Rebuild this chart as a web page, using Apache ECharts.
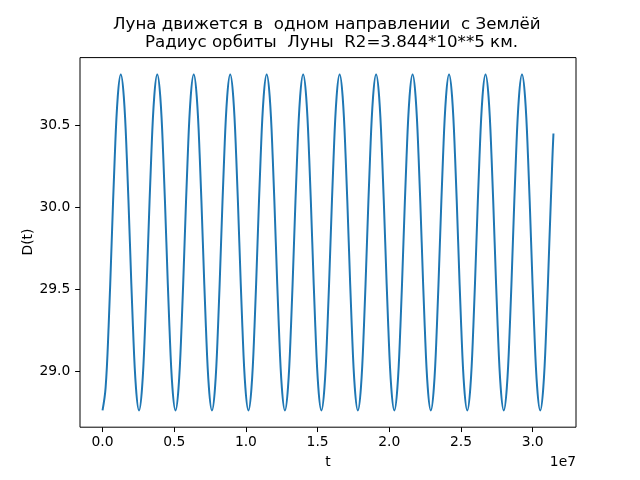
<!DOCTYPE html>
<html><head><meta charset="utf-8">
<script src="https://cdn.jsdelivr.net/npm/echarts@6/dist/echarts.min.js"></script>
<style>html,body{margin:0;padding:0;background:#fff}#c{width:640px;height:480px}</style>
</head><body><div id="c"></div>
<script>
const titleLine1 = 'Луна движется в  одном направлении  с Землёй';
const titleLine2 = 'Радиус орбиты  Луны  R2=3.844*10**5 км.';
const xName = 't';
const yName = 'D(t)';
const xOffsetText = '1e7';
const xTicks = [0, 5000000, 10000000, 15000000, 20000000, 25000000, 30000000];
const yTicks = [29.0, 29.5, 30.0, 30.5];

const tValues = [
  0,212000,424000,636000,848000,1060000,1272000,1484000,1696000,1908000,2120000,2332000,
  2544000,2756000,2968000,3180000,3392000,3604000,3816000,4028000,4240000,4452000,4664000,4876000,
  5088000,5300000,5512000,5724000,5936000,6148000,6360000,6572000,6784000,6996000,7208000,7420000,
  7632000,7844000,8056000,8268000,8480000,8692000,8904000,9116000,9328000,9540000,9752000,9964000,
  10176000,10388000,10600000,10812000,11024000,11236000,11448000,11660000,11872000,12084000,12296000,12508000,
  12720000,12932000,13144000,13356000,13568000,13780000,13992000,14204000,14416000,14628000,14840000,15052000,
  15264000,15476000,15688000,15900000,16112000,16324000,16536000,16748000,16960000,17172000,17384000,17596000,
  17808000,18020000,18232000,18444000,18656000,18868000,19080000,19292000,19504000,19716000,19928000,20140000,
  20352000,20564000,20776000,20988000,21200000,21412000,21624000,21836000,22048000,22260000,22472000,22684000,
  22896000,23108000,23320000,23532000,23744000,23956000,24168000,24380000,24592000,24804000,25016000,25228000,
  25440000,25652000,25864000,26076000,26288000,26500000,26712000,26924000,27136000,27348000,27560000,27772000,
  27984000,28196000,28408000,28620000,28832000,29044000,29256000,29468000,29680000,29892000,30104000,30316000,
  30528000,30740000,30952000,31164000,31376000,31450000
];
const dValues = [
  28.764,28.901,29.276,29.789,30.301,30.676,30.813,30.676,30.301,29.789,29.276,28.901,
  28.764,28.901,29.276,29.789,30.301,30.676,30.813,30.676,30.301,29.789,29.276,28.901,
  28.764,28.901,29.276,29.789,30.301,30.676,30.813,30.676,30.301,29.789,29.276,28.901,
  28.764,28.901,29.276,29.789,30.301,30.676,30.813,30.676,30.301,29.789,29.276,28.901,
  28.764,28.901,29.276,29.789,30.301,30.676,30.813,30.676,30.301,29.789,29.276,28.901,
  28.764,28.901,29.276,29.789,30.301,30.676,30.813,30.676,30.301,29.789,29.276,28.901,
  28.764,28.901,29.276,29.789,30.301,30.676,30.813,30.676,30.301,29.789,29.276,28.901,
  28.764,28.901,29.276,29.789,30.301,30.676,30.813,30.676,30.301,29.789,29.276,28.901,
  28.764,28.901,29.276,29.789,30.301,30.676,30.813,30.676,30.301,29.789,29.276,28.901,
  28.764,28.901,29.276,29.789,30.301,30.676,30.813,30.676,30.301,29.789,29.276,28.901,
  28.764,28.901,29.276,29.789,30.301,30.676,30.813,30.676,30.301,29.789,29.276,28.901,
  28.764,28.901,29.276,29.789,30.301,30.676,30.813,30.676,30.301,29.789,29.276,28.901,
  28.764,28.901,29.276,29.789,30.301,30.453
];

const FONT = '"DejaVu Sans", sans-serif';
const TITLE_SIZE = 16.67;
const LABEL_SIZE = 13.89;
const chart = echarts.init(document.getElementById('c'), null, {renderer: 'canvas'});
const seriesData = tValues.map((t, i) => [t, dValues[i]]);
chart.setOption({
  animation: false,
  backgroundColor: '#ffffff',
  grid: {left: 80, right: 64, top: 57.6, bottom: 52.8, show: true, borderColor: '#000', borderWidth: 1, backgroundColor: 'transparent'},
  xAxis: {
    type: 'value', min: -1572500, max: 33022500,
    axisLine: {show: false, onZero: false},
    splitLine: {show: false},
    axisTick: {show: true, length: 4.86, lineStyle: {color: '#000', width: 1}, customValues: xTicks},
    axisLabel: {color: '#000', fontFamily: FONT, fontSize: LABEL_SIZE, margin: 8.5, customValues: xTicks,
      formatter: v => (v / 1e7).toFixed(1)}
  },
  yAxis: {
    type: 'value', min: 28.6616, max: 30.9155,
    axisLine: {show: false, onZero: false},
    splitLine: {show: false},
    axisTick: {show: true, length: 4.86, lineStyle: {color: '#000', width: 1}, customValues: yTicks},
    axisLabel: {color: '#000', fontFamily: FONT, fontSize: LABEL_SIZE, margin: 9.7, customValues: yTicks,
      formatter: v => v.toFixed(1)}
  },
  series: [{
    type: 'line', data: seriesData, smooth: 0.4, showSymbol: false,
    lineStyle: {color: '#1f77b4', width: 2}, itemStyle: {color: '#1f77b4'}
  }],
  graphic: [
    {type: 'text', left: 113, top: 16, style: {text: titleLine1, font: TITLE_SIZE + 'px ' + FONT, fill: '#000'}},
    {type: 'text', left: 145, top: 34.5, style: {text: titleLine2, font: TITLE_SIZE + 'px ' + FONT, fill: '#000'}},
    {type: 'text', x: 328, y: 462, style: {text: xName, font: LABEL_SIZE + 'px ' + FONT, fill: '#000', textAlign: 'center', textVerticalAlign: 'middle'}},
    {type: 'text', x: 28, y: 242, rotation: Math.PI / 2, style: {text: yName, font: LABEL_SIZE + 'px ' + FONT, fill: '#000', textAlign: 'center', textVerticalAlign: 'middle'}},
    {type: 'text', x: 576, y: 462, style: {text: xOffsetText, font: LABEL_SIZE + 'px ' + FONT, fill: '#000', textAlign: 'right', textVerticalAlign: 'middle'}}
  ]
});
</script>
</body></html>
